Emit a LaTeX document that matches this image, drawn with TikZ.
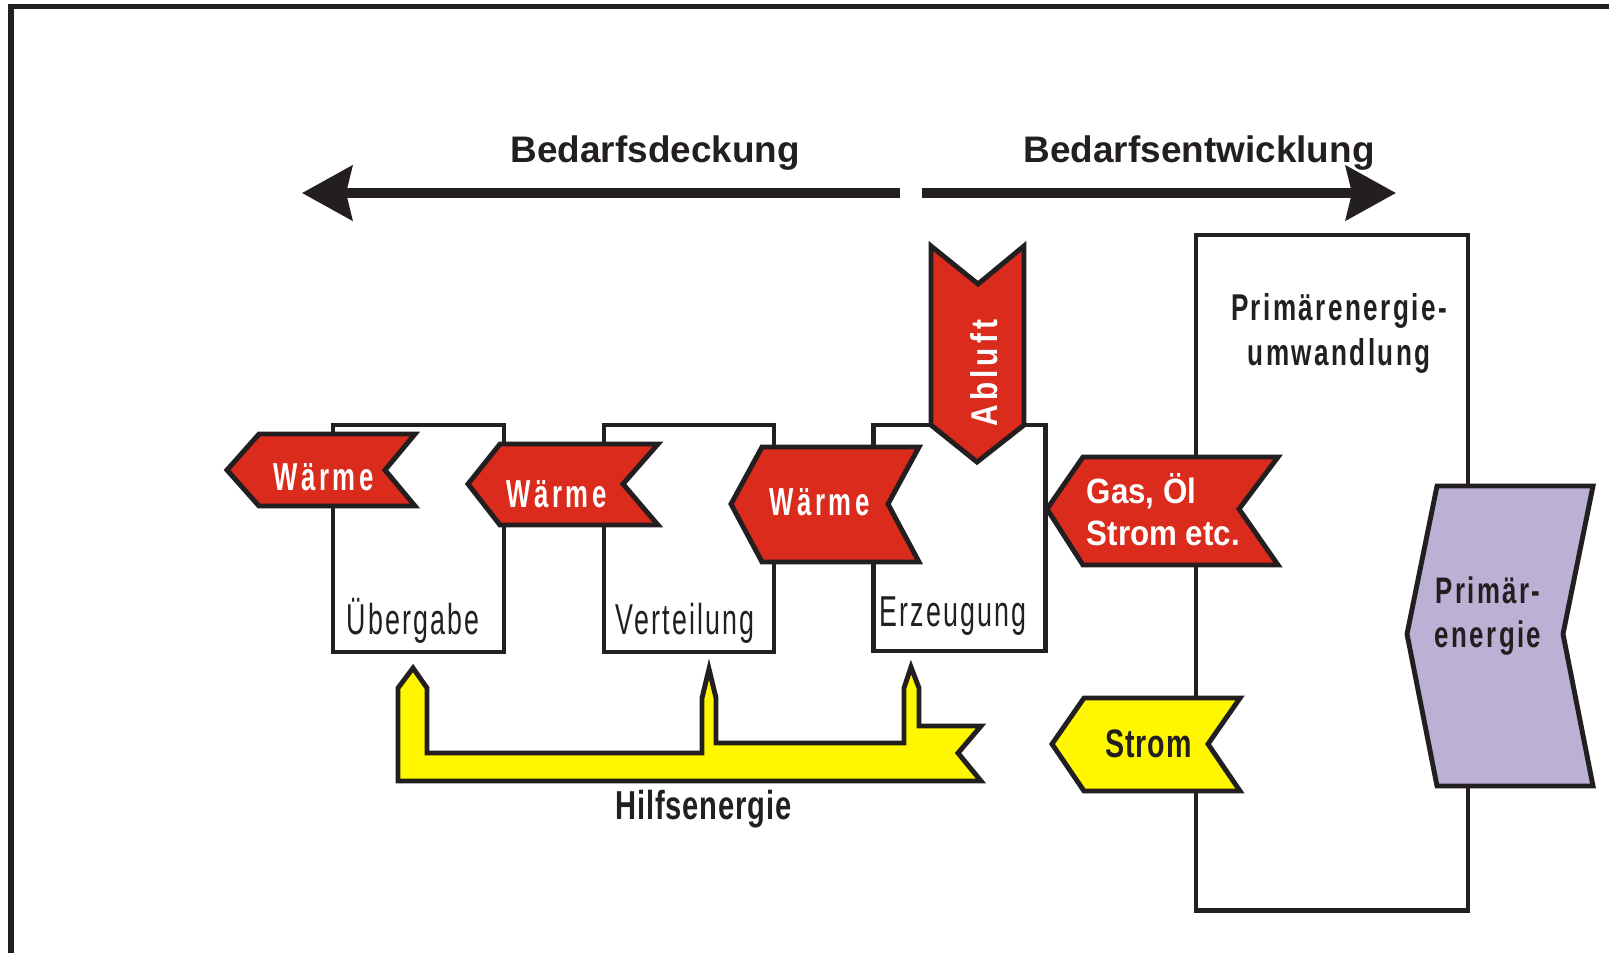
\documentclass[tikz,border=0pt]{standalone}
\usepackage{fontspec}
\setmainfont{Liberation Sans}
\newfontfamily\heatfont[FakeStretch=0.66,LetterSpace=9]{Liberation Sans}
\newfontfamily\abluftfont[FakeStretch=0.8,LetterSpace=11]{Liberation Sans}
\newfontfamily\unitfont[FakeStretch=0.62,LetterSpace=5]{Liberation Sans}
\newfontfamily\primfont[FakeStretch=0.7,LetterSpace=6.5]{Liberation Sans}
\newfontfamily\auxfont[FakeStretch=0.72,LetterSpace=2]{Liberation Sans}
\newfontfamily\fuelfont[FakeStretch=0.89]{Liberation Sans}
\usepackage{tikz}
\usetikzlibrary{arrows.meta}
\usepackage{xcolor}

\definecolor{heatred}{HTML}{DA2B1C}
\definecolor{auxyellow}{HTML}{FFF700}
\definecolor{primlilac}{HTML}{BAB1D4}
\definecolor{inkblack}{HTML}{231F20}

\begin{document}
\begin{tikzpicture}[x=0.01cm, y=-0.01cm,
  unit/.style={draw=inkblack, line width=1.3pt, fill=white, inner sep=0pt},
  flow/.style={draw=inkblack, line width=1.4pt, line join=miter},
  heatflow/.style={flow, fill=heatred},
  auxflow/.style={flow, fill=auxyellow},
  primflow/.style={flow, fill=primlilac},
  trend/.style={draw=inkblack, line width=2.7pt, -{Stealth[length=5mm, width=5.4mm, inset=0.6mm]}},
  lbl/.style={inner sep=0pt, anchor=base west},
  headlbl/.style={lbl, text=inkblack, font=\bfseries\fontsize{10.5}{12}\selectfont},
  heatlbl/.style={lbl, text=white, font=\heatfont\bfseries\fontsize{11.1}{13}\selectfont},
  fuellbl/.style={lbl, text=white, font=\fuelfont\bfseries\fontsize{10}{12}\selectfont},
  auxlbl/.style={lbl, text=inkblack, font=\auxfont\bfseries\fontsize{11.3}{13}\selectfont},
  unitlbl/.style={lbl, text=inkblack, font=\unitfont\fontsize{12.3}{14}\selectfont},
  primlbl/.style={inner sep=0pt, anchor=base, text=inkblack, font=\primfont\bfseries\fontsize{10.6}{12}\selectfont}]
\useasboundingbox (0,0) rectangle (1609,953);

% frame
\draw[draw=inkblack, line width=1.5pt] (11,953) |- (1609,6.5);

% demand arrows
\coordinate (mid-l) at (900,193);
\coordinate (mid-r) at (922,193);
\coordinate (end-l) at (302,193);
\coordinate (end-r) at (1396,193);
\draw[trend] (mid-l) -- (end-l);
\draw[trend] (mid-r) -- (end-r);
\node[headlbl] (deckung) at (510,162) {Bedarfsdeckung};
\node[headlbl] (entwicklung) at (1023,162) {Bedarfsentwicklung};

% units
\node[unit, minimum width=1.71cm, minimum height=2.27cm] (uebergabe) at (418.5,538.5) {};
\node[unit, minimum width=1.70cm, minimum height=2.27cm] (verteilung) at (689,538.5) {};
\node[unit, minimum width=1.72cm, minimum height=2.26cm] (erzeugung) at (959.5,538) {};
\node[unit, minimum width=2.72cm, minimum height=6.75cm] (umwandlung) at (1332,572.5) {};

\node[unitlbl] (uebergabe-lbl) at (346,634) {Übergabe};
\node[unitlbl] (verteilung-lbl) at (615,634) {Verteilung};
\node[unitlbl] (erzeugung-lbl) at (879,626) {Erzeugung};
\node[primlbl] (umwandlung-lbl) at (1339,320) {Primärenergie-};
\node[primlbl] (umwandlung-lbl2) at (1339,365) {umwandlung};

% heat flows
\draw[heatflow] (931,246) -- (978,284) -- (1024,246) -- (1024,425) -- (977,462) -- (931,425) -- cycle;
\node[inner sep=0pt, anchor=base, rotate=90, text=white, font=\abluftfont\bfseries\fontsize{10.6}{13}\selectfont] (abluft) at (997,373) {Abluft};

\draw[heatflow] (227,470) -- (259,434) -- (415,434) -- (385,470) -- (415,506) -- (259,506) -- cycle;
\node[heatlbl] (waerme1) at (273,490) {Wärme};
\draw[heatflow] (468,484) -- (500,444) -- (658,444) -- (623,484) -- (658,525) -- (500,525) -- cycle;
\node[heatlbl] (waerme2) at (506,507) {Wärme};
\draw[heatflow] (731,504) -- (762,447) -- (919,447) -- (888,504) -- (919,562) -- (762,562) -- cycle;
\node[heatlbl] (waerme3) at (769,515) {Wärme};

\draw[heatflow] (1047,509) -- (1083,457) -- (1278,457) -- (1239,509) -- (1278,565) -- (1083,565) -- cycle;
\node[fuellbl] (fuel1) at (1086,503) {Gas, Öl};
\node[fuellbl] (fuel2) at (1086,545) {Strom etc.};

% electricity
\draw[auxflow] (1052,744) -- (1084,698) -- (1240,698) -- (1208,744) -- (1240,791) -- (1084,791) -- cycle;
\node[auxlbl] (strom) at (1105,757) {Strom};

\draw[auxflow] (398,781) -- (398,688) -- (413,668) -- (427,688) -- (427,753) -- (702,753) -- (702,698)
  -- (709,669) -- (716,698) -- (716,743) -- (904,743) -- (904,688) -- (911,667) -- (919,688)
  -- (919,726) -- (981,726) -- (958,753) -- (981,781) -- cycle;
\node[auxlbl, font=\auxfont\bfseries\fontsize{11.5}{13}\selectfont] (hilfs) at (615,819) {Hilfsenergie};

% primary energy
\draw[primflow] (1437,486) -- (1593,486) -- (1563,634) -- (1593,786) -- (1437,786) -- (1407,634) -- cycle;
\node[primlbl, font=\primfont\bfseries\fontsize{10.5}{12}\selectfont] (primaer1) at (1488,603) {Primär-};
\node[primlbl, font=\primfont\bfseries\fontsize{10.5}{12}\selectfont] (primaer2) at (1488,647) {energie};
\end{tikzpicture}
\end{document}
